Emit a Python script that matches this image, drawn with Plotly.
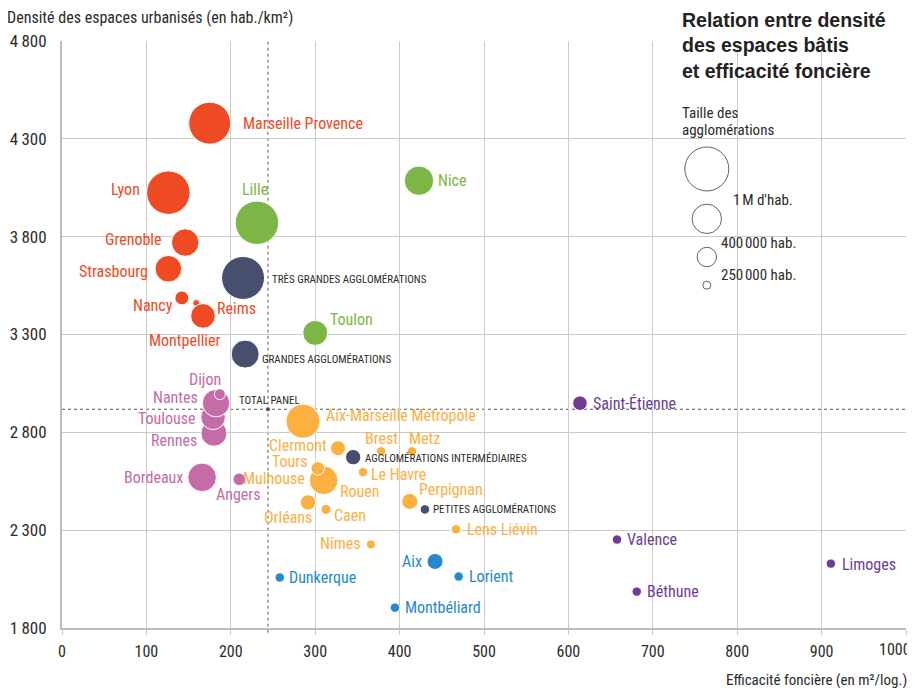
import plotly.graph_objects as go

# ── Données ───────────────────────────────────────────────────────────────────
# efficacité foncière (m²/logement), densité (hab./km²), population (milliers)
noms = [
    "Marseille Provence", "Lyon", "Grenoble", "Strasbourg", "Nancy", "Reims", "Montpellier",
    "Lille", "Nice", "Toulon",
    "Rennes", "Toulouse", "Nantes", "Dijon", "Bordeaux", "Angers",
    "Aix-Marseille Métropole", "Clermont", "Brest", "Metz", "Le Havre", "Mulhouse", "Rouen",
    "Tours", "Perpignan", "Orléans", "Caen", "Lens Liévin", "Nîmes",
    "Aix", "Dunkerque", "Lorient", "Montbéliard",
    "Saint-Étienne", "Valence", "Béthune", "Limoges",
    "TRÈS GRANDES AGGLOMÉRATIONS", "GRANDES AGGLOMÉRATIONS", "TOTAL PANEL",
    "AGGLOMÉRATIONS INTERMÉDIAIRES", "PETITES AGGLOMÉRATIONS",
]
efficacite = [
    175, 126, 146, 126, 142, 159, 167,
    231, 423, 300,
    180, 179, 182.5, 187, 166, 210,
    285.5, 327, 378, 414.7, 356.6, 305.7, 310,
    303, 412, 291.5, 312.8, 466.8, 366,
    442, 258, 470, 394.5,
    613.7, 657.6, 681, 911,
    214.5, 217, 244, 345, 430,
]
densite = [
    4380, 4025, 3770, 3636, 3487, 3461, 3395,
    3871, 4086, 3308,
    2795, 2877, 2949, 2995, 2570, 2560,
    2857, 2719, 2703, 2703, 2596, 2563, 2555,
    2616, 2447, 2442, 2406, 2304, 2227,
    2140, 2058, 2063, 1904,
    2949, 2252, 1986, 2129,
    3589, 3200, 2918, 2673, 2406,
]
population = [
    910, 975, 390, 365, 100, 25, 313,
    975, 446, 323,
    349, 313, 388, 62, 422, 82,
    597, 116, 46, 46, 46, 46, 422,
    93, 132, 122, 52, 46, 42,
    132, 46, 46, 46,
    110, 46, 46, 46,
    955, 405, 13, 122, 46,
]
groupe = (
    ["rouge"] * 7 + ["vert"] * 3 + ["rose"] * 6 + ["orange"] * 13
    + ["bleu"] * 4 + ["violet"] * 4 + ["synthese"] * 5
)

legende_pop = [1000, 445, 195, 33]
legende_txt = ["1\u202fM d'hab.", "400\u202f000 hab.", "250\u202f000 hab."]

y_ticks = [1800, 2300, 2800, 3300, 3800, 4300, 4800]
x_ticks = list(range(0, 1001, 100))

# ── Style ─────────────────────────────────────────────────────────────────────
COULEURS = {
    "rouge": "#EE4A24",
    "vert": "#7CB646",
    "rose": "#C56BA8",
    "orange": "#FBB03F",
    "bleu": "#2589CF",
    "violet": "#6C3C96",
    "synthese": "#474E6E",
}
TXT = "#2b2b2b"
GRID = "#cbcbcb"
NARROW = "Liberation Sans Narrow, Roboto Condensed, Arial Narrow, sans-serif"
BOLD = "Liberation Sans, Arial, sans-serif"
SIZEREF = 2 * 1000 / 44 ** 2   # 1 M hab. -> 44 px de diamètre

# (ancrage, décalage x px, décalage y px)
ETIQUETTES = {
    "Marseille Provence": ("left", 31, 0), "Lyon": ("right", -26, 3),
    "Grenoble": ("right", -21, 3), "Strasbourg": ("right", -18, -3),
    "Nancy": ("right", -7, -8), "Reims": ("left", 19, -5),
    "Montpellier": ("center", -18, -25), "Lille": ("center", -2, 33),
    "Nice": ("left", 17, 0), "Toulon": ("left", 13, 13),
    "Rennes": ("right", -15, -7), "Toulouse": ("right", -15, -1),
    "Nantes": ("right", -16, 6), "Dijon": ("right", 3, 15),
    "Bordeaux": ("right", -17, 0), "Angers": ("center", -1, -15),
    "Aix-Marseille Métropole": ("left", 21, 6), "Clermont": ("right", -9, 3),
    "Brest": ("center", 0, 13), "Metz": ("left", -5, 13),
    "Le Havre": ("left", 6, -2), "Mulhouse": ("right", -13, 0),
    "Rouen": ("left", 14, -11), "Tours": ("right", -8, 7),
    "Perpignan": ("left", 7, 12), "Orléans": ("right", 6, -15),
    "Caen": ("left", 6, -6), "Lens Liévin": ("left", 9, 0),
    "Nîmes": ("right", -8, 1), "Aix": ("right", -11, 0),
    "Dunkerque": ("left", 7, 0), "Lorient": ("left", 8, 0),
    "Montbéliard": ("left", 8, 0), "Saint-Étienne": ("left", 11, 0),
    "Valence": ("left", 8, 0), "Béthune": ("left", 8, 0),
    "Limoges": ("left", 9, -1),
    "TRÈS GRANDES AGGLOMÉRATIONS": ("left", 27, -2),
    "GRANDES AGGLOMÉRATIONS": ("left", 15, -5),
    "TOTAL PANEL": ("center", 2, 9),
    "AGGLOMÉRATIONS INTERMÉDIAIRES": ("left", 10, -1),
    "PETITES AGGLOMÉRATIONS": ("left", 6, 0),
}

fig = go.Figure()

for g, col in COULEURS.items():
    idx = [i for i, gg in enumerate(groupe) if gg == g]
    fig.add_trace(go.Scatter(
        x=[efficacite[i] for i in idx],
        y=[densite[i] for i in idx],
        text=[noms[i] for i in idx],
        mode="markers",
        marker=dict(
            size=[population[i] for i in idx],
            sizemode="area",
            sizeref=SIZEREF,
            color=col,
            line=dict(color="white", width=1),
            opacity=1,
        ),
        hoverinfo="text",
        showlegend=False,
    ))

annotations = []
for i, nom in enumerate(noms):
    anc, dx, dy = ETIQUETTES[nom]
    g = groupe[i]
    is_syn = g == "synthese"
    annotations.append(dict(
        x=efficacite[i], y=densite[i], xref="x", yref="y",
        text=nom, showarrow=False, xanchor=anc, yanchor="middle",
        xshift=dx, yshift=dy,
        font=dict(family=NARROW, size=11 if is_syn else 16,
                  color=TXT if is_syn else COULEURS[g]),
    ))

# lignes de référence sur le total du panel
i_tot = noms.index("TOTAL PANEL")
fig.add_shape(type="line", xref="x", yref="paper",
              x0=efficacite[i_tot], x1=efficacite[i_tot], y0=-0.008, y1=1,
              line=dict(color="#555", width=1, dash="dot"), layer="below")
fig.add_shape(type="line", xref="paper", yref="y",
              x0=0, x1=1.003, y0=densite[i_tot], y1=densite[i_tot],
              line=dict(color="#555", width=1, dash="dot"), layer="below")

# légende des tailles
fig.add_trace(go.Scatter(
    x=[0.764] * 4, y=[0.782, 0.697, 0.632, 0.584],
    xaxis="x2", yaxis="y2", mode="markers",
    marker=dict(size=legende_pop, sizemode="area", sizeref=SIZEREF,
                color="white", line=dict(color="#222", width=1)),
    hoverinfo="skip", showlegend=False,
))
for txt, yy, xx in zip(legende_txt, [0.729, 0.656, 0.601], [0.793, 0.779, 0.779]):
    annotations.append(dict(x=xx, y=yy, xref="paper", yref="paper", text=txt,
                            showarrow=False, xanchor="left", yanchor="middle",
                            font=dict(family=NARROW, size=15, color=TXT)))

# dernière graduation : calée à droite pour rester dans la page
x_ticktext = [str(v) for v in x_ticks]
x_ticktext[-1] = ""
annotations.append(dict(
    x=x_ticks[-1], y=0, xref="x", yref="paper", text=str(x_ticks[-1]),
    showarrow=False, xanchor="right", yanchor="top", xshift=7, yshift=-10,
    font=dict(family=NARROW, size=16, color=TXT),
))

annotations += [
    dict(x=0.7325, y=0.993, xref="paper", yref="paper",
         text="<b>Relation entre densité<br>des espaces bâtis<br>et efficacité foncière</b>",
         showarrow=False, xanchor="left", yanchor="middle", align="left",
         font=dict(family=BOLD, size=19.5, color="#222")),
    dict(x=0.7325, y=0.877, xref="paper", yref="paper",
         text="Taille des", showarrow=False,
         xanchor="left", yanchor="middle",
         font=dict(family=NARROW, size=15, color=TXT)),
    dict(x=0.7325, y=0.848, xref="paper", yref="paper",
         text="agglomérations", showarrow=False,
         xanchor="left", yanchor="middle",
         font=dict(family=NARROW, size=15, color=TXT)),
    dict(x=-0.066, y=1.0405, xref="paper", yref="paper",
         text="Densité des espaces urbanisés (en hab./km²)",
         showarrow=False, xanchor="left", yanchor="middle", borderpad=0,
         font=dict(family=NARROW, size=16, color=TXT)),
    dict(x=1.003, y=-0.089, xref="paper", yref="paper",
         text="Efficacité foncière (en m²/log.)",
         showarrow=False, xanchor="right", yanchor="middle",
         font=dict(family=NARROW, size=15, color=TXT)),
]

# la page ajoute une marge de 8 px : la figure est réduite d'autant
fig.update_layout(
    width=907, height=680,
    paper_bgcolor="white", plot_bgcolor="white",
    margin=dict(l=54, r=9, t=33, b=60),
    font=dict(family=NARROW, color=TXT),
    annotations=annotations,
    xaxis=dict(
        range=[0, 1000], tickvals=x_ticks, ticktext=x_ticktext,
        showgrid=True, gridcolor=GRID,
        zeroline=False, showline=True, linecolor="#bdbdbd", linewidth=2,
        ticks="outside", ticklen=5, tickcolor=GRID, automargin=False,
        tickfont=dict(family=NARROW, size=16, color=TXT),
        ticklabelstandoff=3,
    ),
    yaxis=dict(
        range=[1800, 4800], tickvals=y_ticks,
        ticktext=[f"{v:,}".replace(",", "\u2009") for v in y_ticks],
        showgrid=True, gridcolor=GRID, zeroline=False, automargin=False,
        showline=True, linecolor="#bdbdbd", linewidth=2,
        tickfont=dict(family=NARROW, size=17, color=TXT),
        ticklabelstandoff=10,
    ),
    xaxis2=dict(overlaying="x", range=[0, 1], visible=False, automargin=False),
    yaxis2=dict(overlaying="y", range=[0, 1], visible=False, automargin=False),
)

fig.write_html("out.html")
